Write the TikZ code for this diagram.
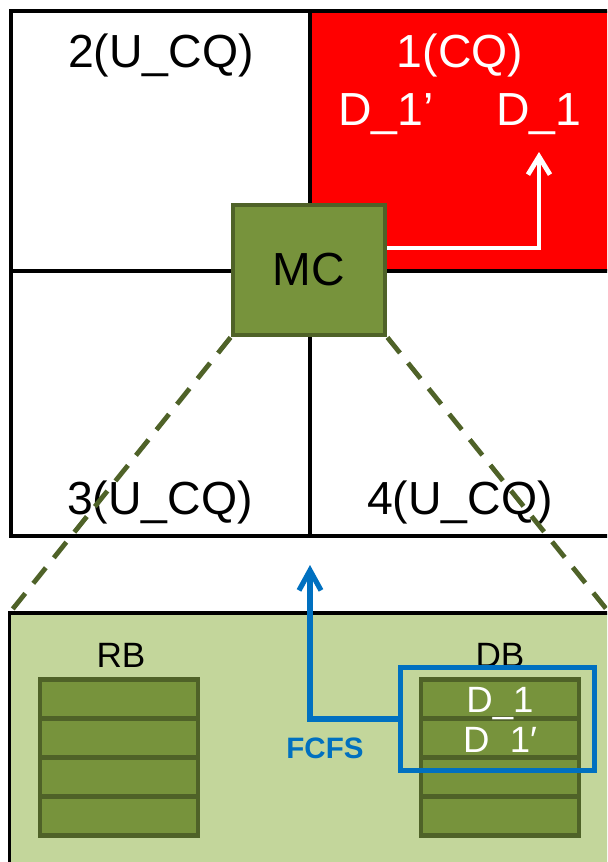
\documentclass[tikz,border=0pt]{standalone}
\usepackage{fontspec}
\setmainfont{Liberation Sans}
\usepackage{xcolor}
\usetikzlibrary{positioning, arrows.meta}

\definecolor{mcgreen}{HTML}{77933C}
\definecolor{mcdark}{HTML}{4F6228}
\definecolor{panelgreen}{HTML}{C3D69B}
\definecolor{fcfsblue}{HTML}{0070C0}
\definecolor{cqred}{HTML}{FF0000}

\begin{document}
\begin{tikzpicture}[
  x=0.025cm, y=-0.025cm,
  big/.style={font=\fontsize{33}{40}\selectfont, inner sep=0pt, anchor=base},
  small/.style={font=\fontsize{25}{30}\selectfont, inner sep=0pt, anchor=base},
  grid/.style={draw=black, line width=0.12cm},
  buf/.style={draw=mcdark, fill=mcgreen, line width=0.12cm, inner sep=0pt,
              minimum width=3.95cm, minimum height=0.975cm},
  zoomln/.style={draw=mcdark, line width=0.12cm, dash pattern=on 0.5cm off 0.32cm},
  warr/.style={-{Straight Barb[length=4.5mm, width=5.5mm]}, white, line width=0.12cm},
  barr/.style={-{Straight Barb[length=5mm, width=5.5mm]}, fcfsblue, line width=0.13cm}
]
\useasboundingbox (0,0) rectangle (607,862);
\clip (0,0) rectangle (607,862);
% cells
\fill[cqred] (310,11) rectangle (640,271);
\draw[grid] (11,11) rectangle (640,536);
\draw[grid] (11,271) -- (640,271);
\draw[grid] (310,11) -- (310,536);
% cell labels
\node[big] (c2) at (161,67) {2(U\_CQ)};
\node[big, white] (c1) at (460,67) {1(CQ)};
\node[big, white] (d1p) at (386,125) {D\_1’};
\node[big, white] (d1) at (539,125) {D\_1};
\node[big] (c3) at (160,514) {3(U\_CQ)};
\node[big] (c4) at (460,514) {4(U\_CQ)};
% zoomed panel
\coordinate (pnw) at (9.5,613);
\coordinate (pne) at (612,616);
\fill[panelgreen] (pnw) rectangle (640,880);
\draw[line width=0.09cm] (9.5,880) -- (pnw) -- (640,613);
% controller
\node[draw=mcdark, fill=mcgreen, line width=0.12cm, minimum width=3.8cm,
      minimum height=3.25cm, font=\fontsize{33}{40}\selectfont] (mc) at (309,270) {MC};
\draw[zoomln] (mc.south west) -- (pnw);
\draw[zoomln] (mc.south east) -- (pne);
% relay to D_1
\coordinate (wbend) at (539,248);
\coordinate (wtip) at (539,152);
\draw[warr] (mc.east |- wbend) -- (wbend) -- (wtip);
% buffers
\node[small] (rb) at (121,667) {RB};
\node[small] (db) at (500,667) {DB};
\foreach \i in {1,...,4}
  \node[buf] (rb\i) at (119,{699+39*(\i-1)}) {};
\foreach \i in {1,2}
  \node[buf] (db\i) at (500,{699+39*(\i-1)}) {};
\node[small, white, font=\fontsize{26}{30}\selectfont] (b1) at (500,712) {D\_1};
\node[small, white, font=\fontsize{26}{30}\selectfont] (b1p) at (500,752) {D\_1′};
\foreach \i in {3,4}
  \node[buf] (db\i) at (500,{699+39*(\i-1)}) {};
% selection served first come first served
\node[draw=fcfsblue, line width=0.13cm, minimum width=4.85cm,
      minimum height=2.575cm] (sel) at (497.5,719) {};
\coordinate (ftip) at (310,565);
\draw[barr] (sel.west) -| (ftip);
\node[font=\bfseries\fontsize{21}{25}\selectfont, fcfsblue, inner sep=0pt,
      anchor=base] (fcfs) at (325,758) {FCFS};
\end{tikzpicture}
\end{document}
